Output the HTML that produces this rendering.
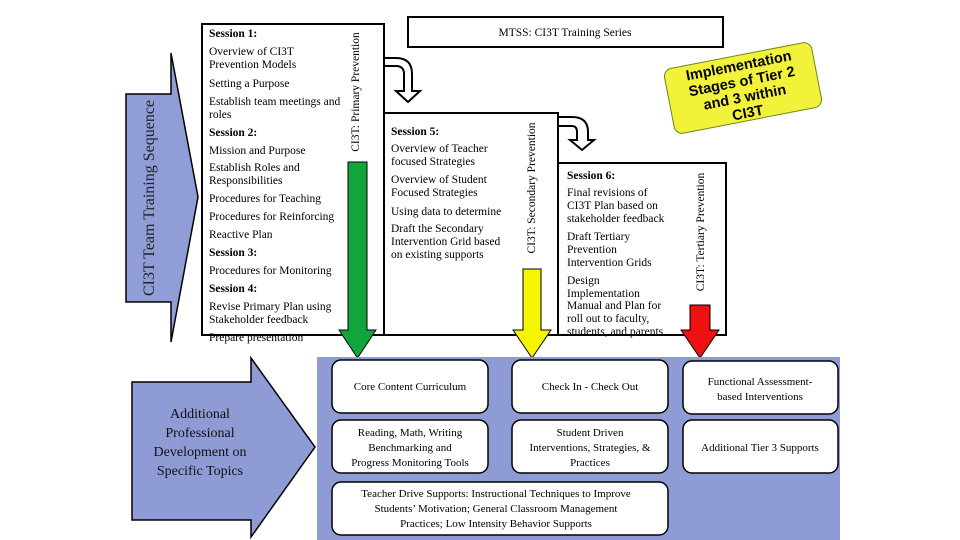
<!DOCTYPE html>
<html><head><meta charset="utf-8"><style>
html,body{margin:0;padding:0;background:#fff;}
svg{display:block;font-family:"Liberation Serif",serif;}
</style></head><body>
<svg width="960" height="540" viewBox="0 0 960 540" xmlns="http://www.w3.org/2000/svg">
<path d="M126,94 L171,94 L171,53 L198,197 L171,342 L171,302 L126,302 Z" fill="#919dd6" stroke="#000" stroke-width="1.5"/>
<text transform="translate(154,198) rotate(-90)" text-anchor="middle" font-size="16" fill="#222">CI3T Team Training Sequence</text>

<rect x="202" y="24" width="182" height="311" fill="#fff" stroke="#000" stroke-width="2"/>
<g font-size="11.5" fill="#000">
<text x="209" y="37" font-weight="bold">Session 1:</text>
<text x="209" y="55">Overview of CI3T</text>
<text x="209" y="68">Prevention Models</text>
<text x="209" y="87">Setting a Purpose</text>
<text x="209" y="105">Establish team meetings and</text>
<text x="209" y="118">roles</text>
<text x="209" y="136" font-weight="bold">Session 2:</text>
<text x="209" y="154">Mission and Purpose</text>
<text x="209" y="171">Establish Roles and</text>
<text x="209" y="184">Responsibilities</text>
<text x="209" y="202">Procedures for Teaching</text>
<text x="209" y="220">Procedures for Reinforcing</text>
<text x="209" y="238">Reactive Plan</text>
<text x="209" y="256" font-weight="bold">Session 3:</text>
<text x="209" y="274">Procedures for Monitoring</text>
<text x="209" y="292" font-weight="bold">Session 4:</text>
<text x="209" y="310">Revise Primary Plan using</text>
<text x="209" y="323">Stakeholder feedback</text>
<text x="209" y="341">Prepare presentation</text>
</g>
<text transform="translate(359,92) rotate(-90)" text-anchor="middle" font-size="11.5">CI3T: Primary Prevention</text>
<path d="M348,162 L367,162 L367,330 L376,330 L357.5,358 L339,330 L348,330 Z" fill="#12a53c" stroke="#000" stroke-width="1"/>

<rect x="408" y="17" width="315" height="30" fill="#fff" stroke="#000" stroke-width="2"/>
<text x="565" y="36" text-anchor="middle" font-size="11.5">MTSS: CI3T Training Series</text>

<path d="M384,58 L396,58 Q412,58 412,74 L412,91 L420,91 L408,102 L396,91 L404,91 L404,74 Q404,66 396,66 L384,66 Z" fill="#fff" stroke="#000" stroke-width="2"/>
<path d="M558,117 L572,117 Q588,117 588,132 L588,140 L594,140 L582,150 L570,140 L577,140 L577,132 Q577,126 572,126 L558,126 Z" fill="#fff" stroke="#000" stroke-width="2"/>

<rect x="384" y="113" width="174" height="222" fill="#fff" stroke="#000" stroke-width="2"/>
<g font-size="11.5">
<text x="391" y="135" font-weight="bold">Session 5:</text>
<text x="391" y="152">Overview of Teacher</text>
<text x="391" y="165">focused Strategies</text>
<text x="391" y="183">Overview of Student</text>
<text x="391" y="196">Focused Strategies</text>
<text x="391" y="215">Using data to determine</text>
<text x="391" y="232">Draft the Secondary</text>
<text x="391" y="245">Intervention Grid based</text>
<text x="391" y="258">on existing supports</text>
</g>
<text transform="translate(535,188) rotate(-90)" text-anchor="middle" font-size="11.5">CI3T: Secondary Prevention</text>
<path d="M523,269 L541,269 L541,330 L551,330 L532,358 L513,330 L523,330 Z" fill="#f5f500" stroke="#000" stroke-width="1"/>

<rect x="558" y="163" width="168" height="172" fill="#fff" stroke="#000" stroke-width="2"/>
<g font-size="11.5">
<text x="567" y="179" font-weight="bold">Session 6:</text>
<text x="567" y="196">Final revisions of</text>
<text x="567" y="209">CI3T Plan based on</text>
<text x="567" y="222">stakeholder feedback</text>
<text x="567" y="240">Draft Tertiary</text>
<text x="567" y="253">Prevention</text>
<text x="567" y="266">Intervention Grids</text>
<text x="567" y="284">Design</text>
<text x="567" y="297">Implementation</text>
<text x="567" y="309">Manual and Plan for</text>
<text x="567" y="322">roll out to faculty,</text>
<text x="567" y="335">students, and parents</text>
</g>
<text transform="translate(704,232) rotate(-90)" text-anchor="middle" font-size="11.5">CI3T: Tertiary Prevention</text>
<path d="M690,305 L710,305 L710,330 L719,330 L700,358 L681,330 L690,330 Z" fill="#ee1111" stroke="#000" stroke-width="1"/>

<g transform="translate(743,88) rotate(-11)">
<rect x="-75" y="-33" width="150" height="66" rx="8" fill="#f2f23a" stroke="#6b8a1a" stroke-width="1"/>
<g font-family="Liberation Sans, sans-serif" font-weight="bold" font-size="14.5" text-anchor="middle" fill="#000">
<text x="0" y="-18">Implementation</text>
<text x="0" y="-2">Stages of Tier 2</text>
<text x="0" y="14">and 3 within</text>
<text x="0" y="30">CI3T</text>
</g>
</g>

<rect x="317" y="357" width="523" height="183" fill="#8e9bd4"/>
<path d="M132,382 L251,382 L251,358 L315,447 L251,537 L251,520 L132,520 Z" fill="#8e9bd4" stroke="#000" stroke-width="1.5"/>
<g font-size="14" text-anchor="middle" fill="#111">
<text x="200" y="418">Additional</text>
<text x="200" y="437">Professional</text>
<text x="200" y="456">Development on</text>
<text x="200" y="475">Specific Topics</text>
</g>

<g fill="#fff" stroke="#000" stroke-width="1.5">
<rect x="332" y="360" width="156" height="53" rx="9"/>
<rect x="512" y="360" width="156" height="53" rx="9"/>
<rect x="683" y="361" width="155" height="53" rx="9"/>
<rect x="332" y="420" width="156" height="53" rx="9"/>
<rect x="512" y="420" width="156" height="53" rx="9"/>
<rect x="683" y="420" width="155" height="53" rx="9"/>
<rect x="332" y="482" width="336" height="53" rx="9"/>
</g>
<g font-size="11" text-anchor="middle">
<text x="410" y="390">Core Content Curriculum</text>
<text x="590" y="390">Check In - Check Out</text>
<text x="760" y="385">Functional Assessment-</text>
<text x="760" y="400">based Interventions</text>
<text x="410" y="436">Reading, Math, Writing</text>
<text x="410" y="451">Benchmarking and</text>
<text x="410" y="466">Progress Monitoring Tools</text>
<text x="590" y="436">Student Driven</text>
<text x="590" y="451">Interventions, Strategies, &amp;</text>
<text x="590" y="466">Practices</text>
<text x="760" y="451">Additional Tier 3 Supports</text>
<text x="496" y="497">Teacher Drive Supports: Instructional Techniques to Improve</text>
<text x="496" y="512">Students’ Motivation; General Classroom Management</text>
<text x="496" y="527">Practices; Low Intensity Behavior Supports</text>
</g>
</svg>
</body></html>
